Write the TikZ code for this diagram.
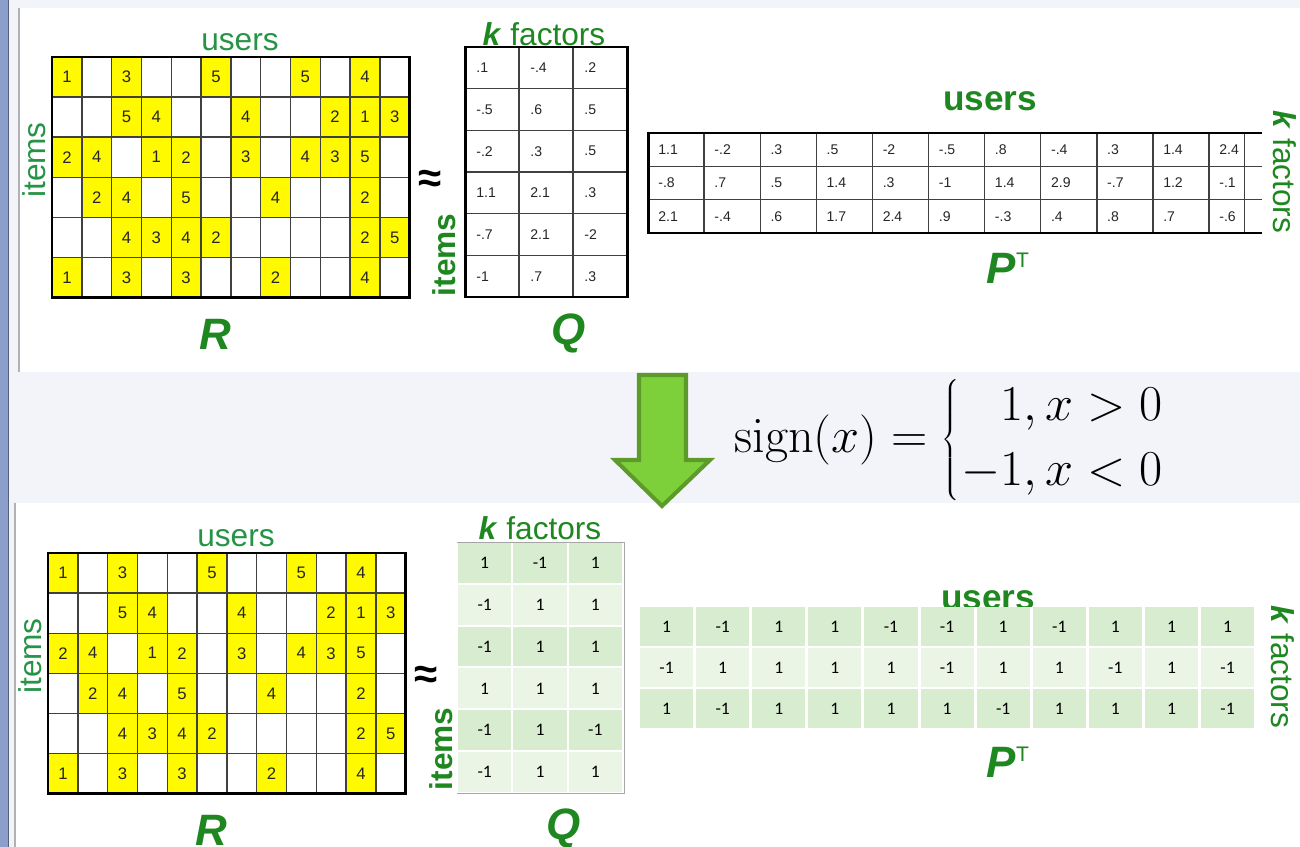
\documentclass[tikz,border=0pt]{standalone}
\usepackage[no-math]{fontspec}
\setmainfont{Liberation Sans}
\newfontfamily\calibrifont{Carlito}

\definecolor{axisgreen}{RGB}{38,148,70}
\definecolor{namegreen}{RGB}{30,135,32}
\definecolor{ratedyellow}{RGB}{255,250,0}
\definecolor{signdark}{RGB}{216,236,207}
\definecolor{signlight}{RGB}{235,245,230}
\definecolor{panelgray}{RGB}{243,244,249}
\definecolor{framebar}{RGB}{140,158,202}
\definecolor{arrowgreen}{RGB}{126,208,59}
\definecolor{arrowedge}{RGB}{92,154,42}

\tikzset{
  axislabel/.style={text=axisgreen, font=\fontsize{18}{20}\selectfont, inner sep=0pt},
  boldlabel/.style={text=namegreen, font=\fontsize{18}{20}\selectfont\bfseries, inner sep=0pt},
  matname/.style={text=namegreen, font=\fontsize{25}{28}\selectfont\bfseries\itshape, inner sep=0pt},
  rating/.style={font=\fontsize{9.5}{10}\selectfont, text=black!85, inner sep=0pt},
  factor/.style={font=\fontsize{8}{9}\selectfont, text=black!85, inner sep=0pt, anchor=west},
  signval/.style={font=\calibrifont\fontsize{10}{11}\selectfont, inner sep=0pt},
  gridline/.style={draw=black!75, line width=0.8pt},
  gridframe/.style={draw=black, line width=1.7pt},
}

\begin{document}
\begin{tikzpicture}[x=0.02cm, y=-0.02cm]
  \useasboundingbox (0,0) rectangle (1300,847);
  % slide background
  \fill[panelgray] (0,0) rectangle (1300,847);
  \fill[white] (20,8) rectangle (1300,372);
  \fill[black!30] (18,8) rectangle (20,372);
  \fill[white] (16,503) rectangle (1300,847);
  \fill[black!30] (14,503) rectangle (16,847);
  \fill[framebar] (0,0) rectangle (8,847);
  \fill[framebar!60!black] (8,0) rectangle (9,847);

  % rating matrix R, once above and once below
  \foreach \part/\ox/\oy in {top/52/57, bot/48/553} {
    \foreach \row [count=\i] in {{1,0,3,0,0,5,0,0,5,0,4,0},{0,0,5,4,0,0,4,0,0,2,1,3},{2,4,0,1,2,0,3,0,4,3,5,0},{0,2,4,0,5,0,0,4,0,0,2,0},{0,0,4,3,4,2,0,0,0,0,2,5},{1,0,3,0,3,0,0,2,0,0,4,0}}
      \foreach \v [count=\j] in \row {
        \ifnum\v>0
          \fill[ratedyellow] ({\ox+(\j-1)*29.8},{\oy+(\i-1)*40.1}) rectangle ++(29.8,40.1);
          \node[rating] (r\part-\i-\j) at ({\ox+(\j-0.5)*29.8},{\oy+(\i-0.5)*40.1}) {\v};
        \fi
      }
    \foreach \k in {1,...,11} \draw[gridline] ({\ox+\k*29.8},\oy) -- ++(0,240.6);
    \foreach \k in {1,...,5} \draw[gridline] (\ox,{\oy+\k*40.1}) -- ++(357.6,0);
    \draw[gridframe] (\ox,\oy) rectangle ++(357.6,240.6);
    \node[axislabel] (users\part) at ({\ox+188},{\oy-15}) {users};
    \node[axislabel, rotate=90] (items\part) at ({\ox-18},{\oy+103}) {items};
    \node[matname] (R\part) at ({\ox+163},{\oy+277}) {R};
    \node[font=\fontsize{24}{26}\selectfont\bfseries, inner sep=0pt] (approx\part) at ({\ox+378},{\oy+124}) {≈};
  }

  % Q with real values
  \foreach \row [count=\i] in {{.1,-.4,.2},{-.5,.6,.5},{-.2,.3,.5},{1.1,2.1,.3},{-.7,2.1,-2},{-1,.7,.3}}
    \foreach \v [count=\j] in \row
      \node[factor] (qtop-\i-\j) at ({465+(\j-1)*54+11},{47+(\i-0.5)*41.67}) {\v};
  \foreach \k in {1,2} \draw[gridline] ({465+\k*54},47) -- ++(0,250);
  \foreach \k in {1,...,5} \draw[gridline] (465,{47+\k*41.67}) -- ++(162,0);
  \draw[gridframe] (465,47) rectangle (627,297);
  \node[axislabel, text=namegreen] (kqtop) at (544,34) {\textbf{\textit{k}} factors};
  \node[boldlabel, rotate=90] (itemsqtop) at (444,255) {items};
  \node[matname] (Qtop) at (569,333) {Q};

  % P transposed with real values
  \foreach \row [count=\i] in {{1.1,-.2,.3,.5,-2,-.5,.8,-.4,.3,1.4,2.4},{-.8,.7,.5,1.4,.3,-1,1.4,2.9,-.7,1.2,-.1},{2.1,-.4,.6,1.7,2.4,.9,-.3,.4,.8,.7,-.6}}
    \foreach \v [count=\j] in \row
      \node[factor] (ptop-\i-\j) at ({648+(\j-1)*56.1+10},{133+(\i-0.5)*33.3}) {\v};
  \foreach \k in {1,...,10} \draw[gridline] ({648+\k*56.1},133) -- ++(0,100);
  \draw[gridline] (1244.5,133) -- ++(0,100);
  \foreach \k in {1,2} \draw[gridline] (648,{133+\k*33.3}) -- (1262,{133+\k*33.3});
  \draw[gridframe] (1262,133) -- (648,133) -- (648,233) -- (1262,233);
  \node[boldlabel, font=\fontsize{20}{22}\selectfont\bfseries] (usersptop) at (990,101) {users};
  \node[axislabel, text=namegreen, rotate=-90] (kptop) at (1285,172) {\textbf{\textit{k}} factors};
  \node[matname] (Ptop) at (1008,268) {P\raisebox{9.3pt}{\upshape\mdseries\fontsize{12}{12}\selectfont T}};

  % arrow and sign function
  \draw[arrowedge, fill=arrowgreen, line width=2.3pt, line join=miter]
    (639,375) -- (686,375) -- (686,460) -- (710,460) -- (662,506) -- (615,460) -- (639,460) -- cycle;
  \node[font=\fontsize{24}{29}\selectfont, inner sep=0pt, scale=1.15] (signdef) at (951,440)
    {\def\arraystretch{1.1}\arraycolsep=1pt
     $\mathrm{sign}(x)=\left\{\begin{array}{r}1,x>0\\-1,x<0\end{array}\right.$};

  % Q after sign
  \foreach \row [count=\i] in {{1,-1,1},{-1,1,1},{-1,1,1},{1,1,1},{-1,1,-1},{-1,1,1}} {
    \ifodd\i \def\rowtint{signdark}\else \def\rowtint{signlight}\fi
    \foreach \v [count=\j] in \row {
      \fill[\rowtint] ({457+(\j-1)*55.33+1},{542+(\i-1)*41.83+1}) rectangle ++(53.3,39.8);
      \node[signval] (qbot-\i-\j) at ({457+(\j-0.5)*55.33},{542+(\i-0.5)*41.83}) {\v};
    }
  }
  \draw[black!35, line width=0.5pt] (457,542) -- (624,542) -- (624,793) -- (457,793);
  \node[axislabel, text=namegreen] (kqbot) at (540,528) {\textbf{\textit{k}} factors};
  \node[boldlabel, rotate=90] (itemsqbot) at (441,749) {items};
  \node[matname] (Qbot) at (564,828) {Q};

  % P transposed after sign
  \begin{scope}
    \clip (900,570) rectangle (1100,606);
    \node[boldlabel, font=\fontsize{20}{22}\selectfont\bfseries] (userspbot) at (988,600) {users};
  \end{scope}
  \foreach \row [count=\i] in {{1,-1,1,1,-1,-1,1,-1,1,1,1},{-1,1,1,1,1,-1,1,1,-1,1,-1},{1,-1,1,1,1,1,-1,1,1,1,-1}} {
    \ifodd\i \def\rowtint{signdark}\else \def\rowtint{signlight}\fi
    \foreach \v [count=\j] in \row {
      \fill[\rowtint] ({638.5+(\j-1)*56.1+1.5},{606+(\i-1)*41+1}) rectangle ++(53.1,39);
      \node[signval] (pbot-\i-\j) at ({638.5+(\j-0.5)*56.1},{606+(\i-0.5)*41}) {\v};
    }
  }
  \node[axislabel, text=namegreen, rotate=-90] (kpbot) at (1283,667) {\textbf{\textit{k}} factors};
  \node[matname] (Pbot) at (1008,762) {P\raisebox{9.3pt}{\upshape\mdseries\fontsize{12}{12}\selectfont T}};
\end{tikzpicture}
\end{document}
